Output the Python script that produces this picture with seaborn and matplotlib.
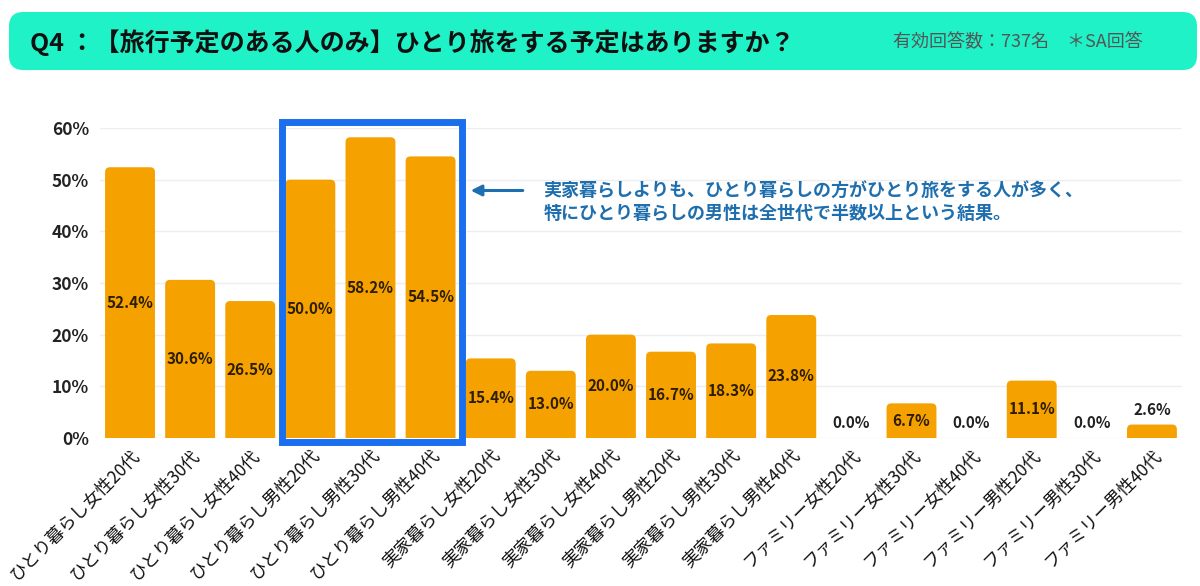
import matplotlib
matplotlib.use("Agg")
import matplotlib.pyplot as plt
from matplotlib.patches import FancyBboxPatch, Rectangle
import seaborn as sns
import pandas as pd

categories = [
    "ひとり暮らし女性20代", "ひとり暮らし女性30代", "ひとり暮らし女性40代",
    "ひとり暮らし男性20代", "ひとり暮らし男性30代", "ひとり暮らし男性40代",
    "実家暮らし女性20代", "実家暮らし女性30代", "実家暮らし女性40代",
    "実家暮らし男性20代", "実家暮らし男性30代", "実家暮らし男性40代",
    "ファミリー女性20代", "ファミリー女性30代", "ファミリー女性40代",
    "ファミリー男性20代", "ファミリー男性30代", "ファミリー男性40代",
]
values = [52.4, 30.6, 26.5, 50.0, 58.2, 54.5,
          15.4, 13.0, 20.0, 16.7, 18.3, 23.8,
          0.0, 6.7, 0.0, 11.1, 0.0, 2.6]
yticks = [0, 10, 20, 30, 40, 50, 60]

title = "Q4 ：【旅行予定のある人のみ】ひとり旅をする予定はありますか？"
note = "有効回答数：737名　＊SA回答"
comment = ("実家暮らしよりも、ひとり暮らしの方がひとり旅をする人が多く、\n"
           "特にひとり暮らしの男性は全世代で半数以上という結果。")

sns.set_style("white")
plt.rcParams['font.family'] = ['Noto Sans CJK JP', 'DejaVu Sans']

df = pd.DataFrame({"cat": categories, "val": values})

fig = plt.figure(figsize=(12, 5.86), dpi=100)
ax = fig.add_axes([0.0833, 0.2526, 0.9017, 0.529])

sns.barplot(data=df, x="cat", y="val", color="#F5A100", saturation=1,
            width=0.83, ax=ax)

ax.set_ylim(0, 60)
ax.set_xlim(-0.5, len(categories) - 0.5)
ax.set_yticks(yticks)
ax.set_yticklabels([f"{t}%" for t in yticks], fontsize=12.5, fontweight='bold',
                   color='#222222')
ax.grid(axis='y', color='#eeeeee', linewidth=1)
ax.set_axisbelow(True)
for s in ax.spines.values():
    s.set_visible(False)
ax.tick_params(axis='both', length=0)
ax.tick_params(axis='y', pad=8)
ax.tick_params(axis='x', pad=6)
ax.set_xlabel("")
ax.set_ylabel("")
ax.set_xticks(range(len(categories)))
ax.set_xticklabels(categories, rotation=45, ha='right', rotation_mode='anchor',
                   fontsize=12.5, color='#111111')

# swap plain rectangles for bars with rounded tops
for p in list(ax.patches):
    x0, w, h = p.get_x(), p.get_width(), p.get_height()
    if h <= 0:
        p.set_visible(False)
        continue
    rb = FancyBboxPatch((x0, -3), w, h + 3,
                        boxstyle="round,pad=0,rounding_size=0.08",
                        mutation_aspect=12, facecolor=p.get_facecolor(),
                        edgecolor='none', zorder=p.get_zorder())
    p.set_visible(False)
    ax.add_patch(rb)

for i, v in enumerate(values):
    if v < 5:
        ax.annotate(f"{v:.1f}%", (i, v), xytext=(0, 5), textcoords='offset points',
                    ha='center', va='bottom', fontsize=11, fontweight='bold',
                    color='#222222')
    else:
        ax.text(i, v / 2, f"{v:.1f}%", ha='center', va='center', fontsize=11,
                fontweight='bold', color='#2e1e00')

# highlight box around the one-person male bars
box = Rectangle((2.52, -0.7), 3.0, 61.95, fill=False, edgecolor='#1A6FEF',
                linewidth=5, clip_on=False, zorder=5)
ax.add_patch(box)

ax.annotate("", xy=(5.62, 47.9), xytext=(6.58, 47.9),
            arrowprops=dict(arrowstyle='-|>', color='#1F6FB0', lw=2.2,
                            mutation_scale=16), annotation_clip=False)
ax.text(6.88, 47.9 - 2.3, comment, fontsize=13, fontweight='bold',
        color='#1F6FAE', va='center', ha='left', linespacing=1.15)

# header band
hdr = FancyBboxPatch((0.0075, 0.8805), 0.99, 0.099,
                     boxstyle="round,pad=0,rounding_size=0.012",
                     transform=fig.transFigure, facecolor='#1EF2C6',
                     edgecolor='none', mutation_aspect=2.05)
fig.patches.append(hdr)
fig.text(0.025, 0.928, title, fontsize=18, fontweight='bold', color='#111111',
         va='center', ha='left')
fig.text(0.744, 0.928, note, fontsize=13, color='#555555', va='center', ha='left')

fig.savefig("out.png", dpi=100)
